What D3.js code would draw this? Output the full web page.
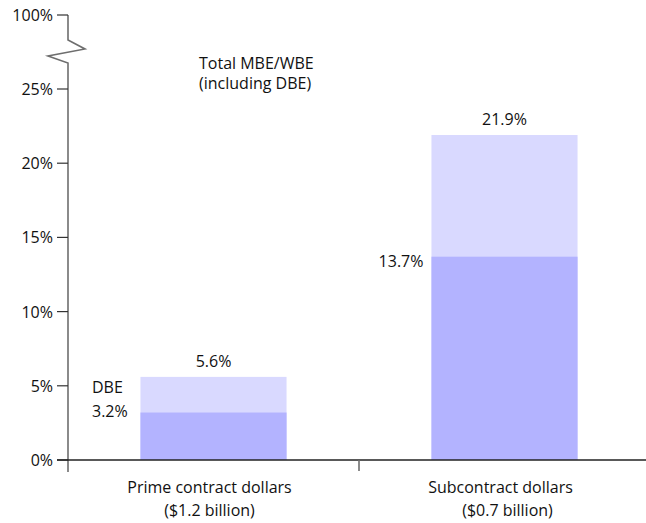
<!DOCTYPE html>
<html>
<head>
<meta charset="utf-8">
<script src="https://cdn.jsdelivr.net/npm/d3@7"></script>
<style>
  html, body { margin: 0; padding: 0; background: #ffffff; }
  svg { display: block; }
  text { font-family: "Open Sans", "Noto Sans", sans-serif; font-size: 16px; fill: #111; }
</style>
</head>
<body>
<svg id="chart" width="646" height="523"></svg>
<script>
// Contract categories and their shares (percent of dollars)
const categories = ["Prime contract dollars", "Subcontract dollars"];
const categorySubLabels = ["($1.2 billion)", "($0.7 billion)"];
const dbeShare = [3.2, 13.7];          // DBE share
const totalMbeWbeShare = [5.6, 21.9];  // Total MBE/WBE (including DBE)
const tickValues = [0, 5, 10, 15, 20, 25, 100];
const tickLabels = ["0%", "5%", "10%", "15%", "20%", "25%", "100%"];

const svg = d3.select("#chart");
const margin = { left: 68, top: 15, baseline: 460, right: 650 };

const x = d3.scaleBand()
  .domain(categories)
  .range([margin.left, margin.right])
  .paddingInner(0)
  .paddingOuter(0);

// Broken axis: 0–25% on a linear run, then a compressed jump up to 100%
const y = d3.scaleLinear()
  .domain([0, 25, 100])
  .range([margin.baseline, 89, margin.top]);

const barWidth = x.bandwidth() * 0.502;
const barX = c => x(c) + (x.bandwidth() - barWidth) / 2;

// Total MBE/WBE bars (light)
svg.append("g").selectAll("rect")
  .data(categories)
  .join("rect")
  .attr("x", c => barX(c))
  .attr("width", barWidth)
  .attr("y", (c, i) => y(totalMbeWbeShare[i]))
  .attr("height", (c, i) => y(0) - y(totalMbeWbeShare[i]))
  .attr("fill", "#d9d9ff");

// DBE bars (darker), overlaid from the baseline
svg.append("g").selectAll("rect")
  .data(categories)
  .join("rect")
  .attr("x", c => barX(c))
  .attr("width", barWidth)
  .attr("y", (c, i) => y(dbeShare[i]))
  .attr("height", (c, i) => y(0) - y(dbeShare[i]))
  .attr("fill", "#b3b3ff");

// Y axis with a zigzag break between 25% and 100%
const axisX = margin.left;
const breakTop = 40, breakBottom = 63;
const axisPath = d3.path();
axisPath.moveTo(axisX, y(100));
axisPath.lineTo(axisX, breakTop);
axisPath.lineTo(axisX + 17, breakTop + 9);
axisPath.lineTo(axisX - 20, breakTop + 16);
axisPath.lineTo(axisX, breakBottom);
axisPath.lineTo(axisX, margin.baseline + 12);
svg.append("path")
  .attr("d", axisPath.toString())
  .attr("fill", "none")
  .attr("stroke", "#6e6e6e")
  .attr("stroke-width", 1.6);

const yTicks = svg.append("g");
yTicks.selectAll("line")
  .data(tickValues)
  .join("line")
  .attr("x1", axisX - 11)
  .attr("x2", axisX)
  .attr("y1", d => y(d))
  .attr("y2", d => y(d))
  .attr("stroke", "#333")
  .attr("stroke-width", 1.2);
yTicks.selectAll("text")
  .data(tickValues)
  .join("text")
  .attr("x", axisX - 15)
  .attr("y", d => y(d))
  .attr("dy", "0.38em")
  .attr("text-anchor", "end")
  .text((d, i) => tickLabels[i]);

// X axis baseline and category dividers
svg.append("line")
  .attr("x1", axisX - 11)
  .attr("x2", 646)
  .attr("y1", y(0))
  .attr("y2", y(0))
  .attr("stroke", "#222")
  .attr("stroke-width", 1.6);
svg.append("g").selectAll("line")
  .data(categories.slice(1))
  .join("line")
  .attr("x1", c => x(c))
  .attr("x2", c => x(c))
  .attr("y1", y(0))
  .attr("y2", y(0) + 11)
  .attr("stroke", "#6e6e6e")
  .attr("stroke-width", 1.6);

// Category labels
const catG = svg.append("g").attr("text-anchor", "middle");
catG.selectAll("text.cat")
  .data(categories)
  .join("text")
  .attr("class", "cat")
  .attr("x", c => x(c) + x.bandwidth() / 2 - 4)
  .attr("y", y(0) + 33)
  .text(c => c);
catG.selectAll("text.sub")
  .data(categories)
  .join("text")
  .attr("class", "sub")
  .attr("x", (c, i) => x(c) + x.bandwidth() / 2 + (i === 0 ? -4 : 3))
  .attr("y", y(0) + 56)
  .text((c, i) => categorySubLabels[i]);

// Value labels: totals above the bars
svg.append("g").selectAll("text")
  .data(categories)
  .join("text")
  .attr("x", c => x(c) + x.bandwidth() / 2)
  .attr("y", (c, i) => y(totalMbeWbeShare[i]) - 10)
  .attr("text-anchor", "middle")
  .text((c, i) => totalMbeWbeShare[i].toFixed(1) + "%");

// DBE value labels
svg.append("text")
  .attr("x", 92)
  .attr("y", y(dbeShare[0]) + 4)
  .text(dbeShare[0].toFixed(1) + "%");
svg.append("text")
  .attr("x", barX(categories[1]) - 8)
  .attr("y", y(dbeShare[1]) + 10)
  .attr("text-anchor", "end")
  .text(dbeShare[1].toFixed(1) + "%");

// Series annotations
svg.append("text")
  .attr("x", 92)
  .attr("y", y(5) + 7)
  .text("DBE");
const note = svg.append("text").attr("x", 199).attr("y", 69);
note.append("tspan").attr("x", 199).text("Total MBE/WBE");
note.append("tspan").attr("x", 199).attr("dy", 20).text("(including DBE)");
</script>
</body>
</html>
